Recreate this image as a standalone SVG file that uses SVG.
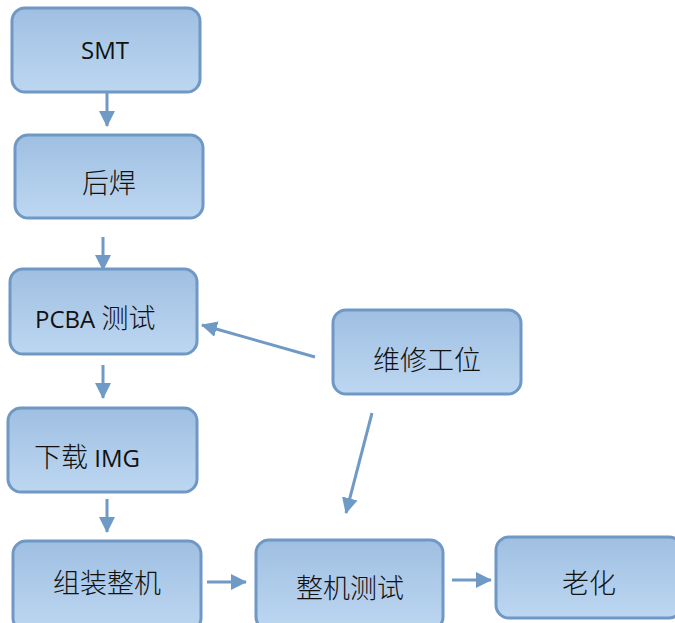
<svg xmlns="http://www.w3.org/2000/svg" width="675" height="623" viewBox="0 0 675 623">
<defs>
<linearGradient id="g" x1="0" y1="0" x2="0" y2="1">
<stop offset="0" stop-color="#9fbfe2"/>
<stop offset="1" stop-color="#bdd7f1"/>
</linearGradient>
<marker id="ah" markerUnits="userSpaceOnUse" markerWidth="16" markerHeight="16" viewBox="0 0 16 16" refX="15" refY="8" orient="auto">
<path d="M0,0 L16,8 L0,16 Z" fill="#6f9ac6"/>
</marker>
<style>
.box{fill:url(#g);stroke:#6f98c4;stroke-width:3}
.t{font-family:"Open Sans","Noto Sans CJK SC",sans-serif;font-size:24px;fill:#111}
.z{font-family:"Noto Sans CJK SC",sans-serif;font-size:27px;font-weight:300}
.c{text-anchor:middle}
.ar{stroke:#6f9ac6;stroke-width:3;fill:none;marker-end:url(#ah)}
</style>
</defs>
<rect width="675" height="623" fill="#fff"/>
<g id="n-smt"><rect class="box" x="12" y="8" width="188" height="84" rx="13"/><text class="t c" x="105" y="59">SMT</text></g>
<g id="n-houhan"><rect class="box" x="15" y="135" width="188" height="83" rx="13"/><text class="t z c" x="109" y="193">后焊</text></g>
<g id="n-pcba"><rect class="box" x="10" y="269" width="187" height="85" rx="13"/><text class="t" x="35" y="328">PCBA <tspan class="z">测试</tspan></text></g>
<g id="n-img"><rect class="box" x="8" y="408" width="189" height="84" rx="13"/><text class="t" x="34" y="467"><tspan class="z">下载</tspan> IMG</text></g>
<g id="n-zuzhuang"><rect class="box" x="13" y="541" width="188" height="90" rx="13"/><text class="t z c" x="107" y="593">组装整机</text></g>
<g id="n-ceshi"><rect class="box" x="256" y="540" width="187" height="90" rx="13"/><text class="t z c" x="350" y="598">整机测试</text></g>
<g id="n-laohua"><rect class="box" x="496" y="537" width="186" height="81" rx="13"/><text class="t z c" x="589" y="593">老化</text></g>
<g id="n-weixiu"><rect class="box" x="333" y="310" width="188" height="84" rx="13"/><text class="t z c" x="427" y="370">维修工位</text></g>
<g id="connectors">
<line class="ar" x1="107" y1="92" x2="107" y2="126"/>
<line class="ar" x1="103" y1="237" x2="103" y2="270"/>
<line class="ar" x1="103" y1="365" x2="103" y2="398"/>
<line class="ar" x1="107" y1="499" x2="107" y2="532"/>
<line class="ar" x1="207" y1="582" x2="246" y2="582"/>
<line class="ar" x1="452" y1="580" x2="491" y2="580"/>
<line class="ar" x1="315" y1="357" x2="202" y2="325"/>
<line class="ar" x1="372" y1="413" x2="346" y2="513"/>
</g>
</svg>
